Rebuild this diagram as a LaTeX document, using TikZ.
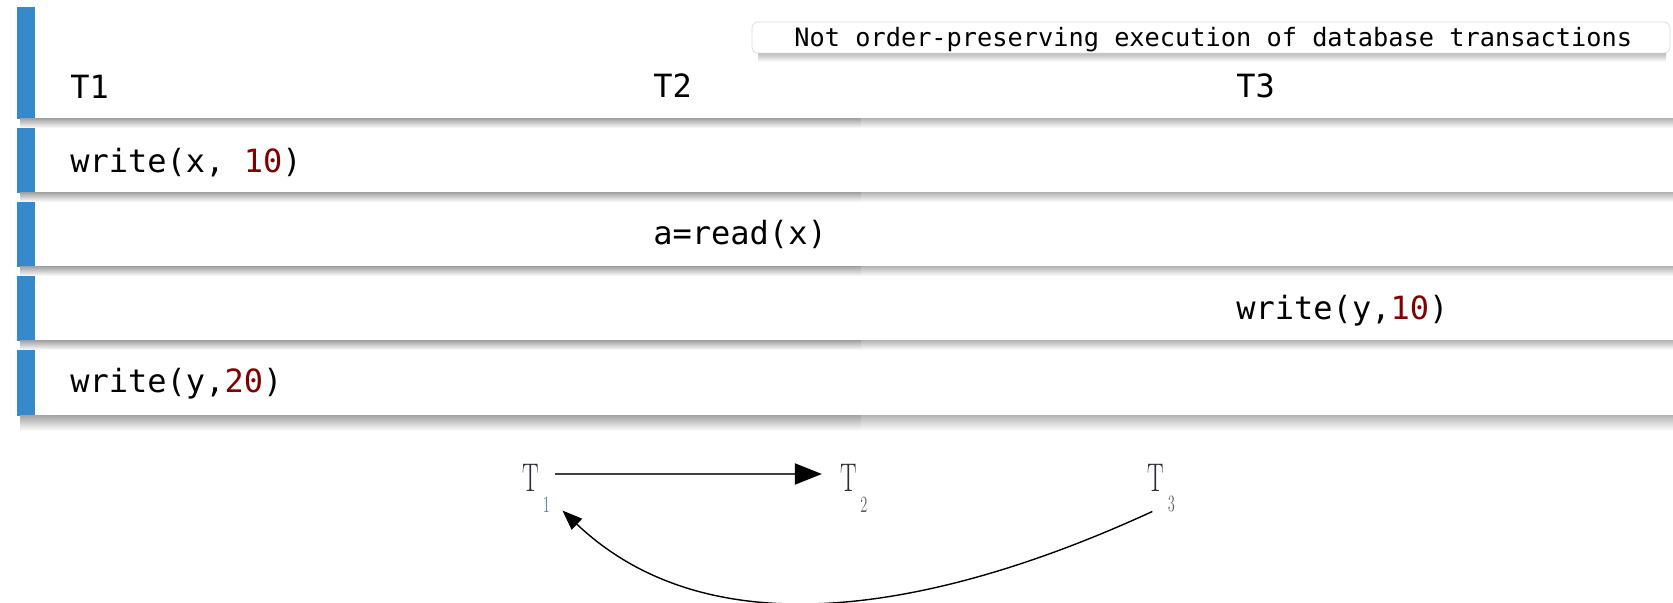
\documentclass[tikz,border=0pt]{standalone}
\usepackage{fontspec}
\setmonofont{DejaVu Sans Mono}
\usetikzlibrary{arrows.meta}
\definecolor{barblue}{RGB}{54,138,204}
\definecolor{numred}{RGB}{128,0,0}
\definecolor{subblue}{RGB}{80,125,170}
\definecolor{subgray}{RGB}{95,95,95}
\definecolor{tgray}{RGB}{45,45,55}
\begin{document}
\begin{tikzpicture}[x=0.5pt,y=-0.5pt,
  code/.style={font=\ttfamily\fontsize{16}{19}\selectfont, anchor=base west, inner sep=0},
  titletext/.style={font=\ttfamily\fontsize{12.65}{15}\selectfont, anchor=base west, inner sep=0},
  titlebox/.style={draw=gray!25, fill=white, rounded corners=3pt, minimum width=459pt, minimum height=15.5pt, inner sep=0},
  tnode/.style={inner sep=0, font=\fontsize{20}{24}\selectfont, text=tgray},
  subnode/.style={inner sep=0, font=\fontsize{11.6}{14}\selectfont},
  bar/.style={fill=barblue},
  conn/.style={line width=0.7pt, draw=black}
]
\path[use as bounding box, fill=white] (0,0) rectangle (1673,603);
% rows
\foreach \a/\b/\s in {7/119/9, 128/193/9, 202/267/9, 276/341/9, 350/416/15}{
  \fill[white] (17,\a) rectangle (1673,\b);
  \fill[bar] (17,\a) rectangle (35,\b);
  \shade[top color=gray!68, bottom color=white] (20,\b) rectangle (861,\b+\s);
  \shade[top color=gray!55, bottom color=white] (861,\b) rectangle (1673,\b+\s);
}
% title box
\shade[top color=gray!60, bottom color=white] (758,52) rectangle (1666,62);
\node[titlebox] (tbox) at (1211,37.5) {};
\node[titletext] (ttl) at (794,47) {Not order-preserving execution of database transactions};
% header
\node[code] (h1) at (70,99) {T1};
\node[code] (h2) at (653,98) {T2};
\node[code] (h3) at (1236,98) {T3};
% operations
\node[code] (op1) at (70,173) {write(x, {\color{numred}10})};
\node[code] (op2) at (653,245) {a=read(x)};
\node[code] (op3) at (1236,320) {write(y,{\color{numred}10})};
\node[code] (op4) at (70,393) {write(y,{\color{numred}20})};
% precedence graph
\node[tnode] (t1) at (530.5,477.5) {\scalebox{0.62}[1]{T}};
\node[subnode, text=subblue] (t1s) at (546.5,504.5) {\scalebox{0.62}[1]{1}};
\node[tnode] (t2) at (848.5,477.5) {\scalebox{0.62}[1]{T}};
\node[subnode, text=subgray] (t2s) at (864,504.5) {\scalebox{0.62}[1]{2}};
\node[tnode] (t3) at (1156,477.5) {\scalebox{0.62}[1]{T}};
\node[subnode, text=subgray] (t3s) at (1171.5,504.5) {\scalebox{0.62}[1]{3}};
\draw[line width=1pt, draw=black!75, -{Triangle[length=13.5pt,width=10.5pt,color=black]}]
  ([xshift=8pt,yshift=1.75pt]t1.east) -- ([xshift=-9pt,yshift=1.75pt]t2.west);
\draw[conn, -{Triangle[length=10pt,width=7.5pt]}]
  ([xshift=2.5pt,yshift=-10pt]t3.south west) .. controls (960,600) and (720,660) .. ([xshift=6pt,yshift=-3pt]t1s.east);
\end{tikzpicture}
\end{document}
